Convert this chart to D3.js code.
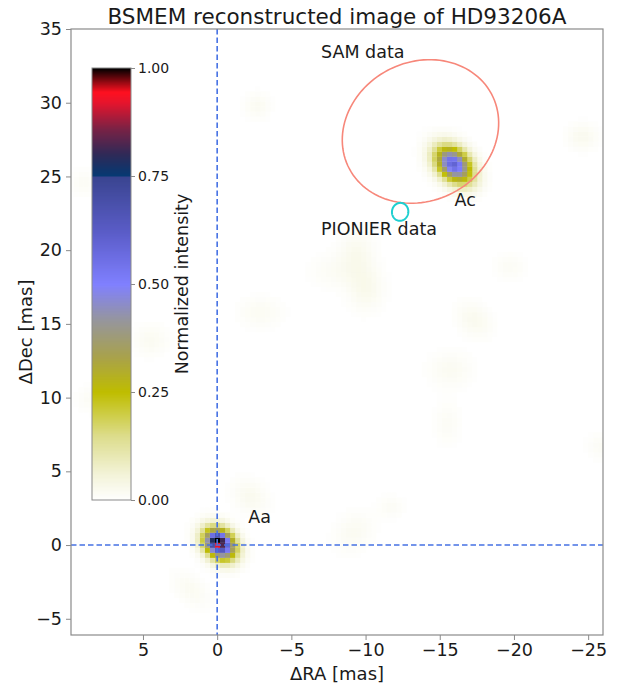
<!DOCTYPE html>
<html>
<head>
<meta charset="utf-8">
<script src="https://cdn.jsdelivr.net/npm/d3@7"></script>
<style>
body { margin: 0; background: #fff; }
text { font-family: "DejaVu Sans", sans-serif; fill: #1a1a1a; }
</style>
</head>
<body>
<svg id="chart" width="623" height="684"></svg>
<script>
// image extent in mas (RA runs right to left)
var raRange = [9.85, -26.0];
var decRange = [-6.1, 35.0];
var pixelSize = 0.34;

var xTicks = [5, 0, -5, -10, -15, -20, -25];
var yTicks = [-5, 0, 5, 10, 15, 20, 25, 30, 35];
var cbarTicks = [0, 0.25, 0.5, 0.75, 1.0];

// components: ra, dec, peak, sigma major, sigma minor, angle (deg, screen frame)
var sources = [
  [-0.15, 0.10, 0.76, 0.80, 0.62, 135],   // Aa
  [0.05, 0.27, 0.30, 0.32, 0.30, 0],      // Aa core
  [-15.9, 25.85, 0.60, 0.95, 0.68, 135],  // Ac
  [-16.9, 24.6, 0.03, 0.6, 0.5, 0],
  [-2.7, 29.8, 0.02, 0.6, 0.6, 0],
  [-24.6, 27.7, 0.025, 0.7, 0.6, 0],
  [-9.4, 19.8, 0.025, 1.1, 0.8, 90],
  [-10.0, 17.4, 0.028, 1.0, 0.8, 90],
  [-8.0, 18.6, 0.015, 1.2, 0.8, 0],
  [-2.9, 15.8, 0.018, 1.0, 0.7, 0],
  [-17.3, 15.3, 0.025, 0.9, 0.7, 135],
  [-19.7, 18.9, 0.015, 0.7, 0.6, 0],
  [-15.7, 11.9, 0.02, 1.0, 0.8, 0],
  [-15.5, 8.3, 0.015, 1.0, 0.6, 90],
  [-11.7, 2.6, 0.015, 0.6, 0.5, 0],
  [-2.2, 3.3, 0.025, 0.9, 0.7, 135],
  [-9.2, 0.9, 0.02, 1.0, 0.8, 45],
  [4.5, 13.9, 0.02, 0.8, 0.7, 0],
  [1.8, -3.0, 0.02, 1.0, 0.6, 135],
  [9.0, 24.6, 0.015, 0.6, 0.6, 0],
  [8.6, 9.9, 0.015, 0.6, 0.6, 0],
  [-25.8, 6.7, 0.015, 0.6, 0.6, 0]
];

var labels = [
  {text: "SAM data", ra: -7.0, dec: 33.0},
  {text: "PIONIER data", ra: -7.0, dec: 21.0},
  {text: "Ac", ra: -16.0, dec: 23.0},
  {text: "Aa", ra: -2.1, dec: 1.5}
];

// ellipses: centre, semi-axes (mas), angle of major axis (deg, screen frame)
var samEllipse = {ra: -13.7, dec: 28.05, a: 5.42, b: 4.70, angle: 28, color: "#f7877a", width: 1.6};
var pionierEllipse = {ra: -12.33, dec: 22.6, a: 0.61, b: 0.55, angle: 80, color: "#1ecfd0", width: 2};

var cmapStops = [0, 0.06, 0.15, 0.25, 0.33, 0.42, 0.5, 0.62, 0.749, 0.75, 0.80, 0.86, 0.92, 0.945, 1.0];
var cmapColors = ["#ffffff", "#f3f3d8", "#dcdc8a", "#bfbd00", "#a9a24a", "#9595a0", "#8080ff", "#5b5dc8",
                  "#3a4590", "#053a74", "#2e2a58", "#7a2245", "#e5152d", "#ff1020", "#000000"];

var svg = d3.select("#chart");
var margin = {left: 71, right: 603, top: 29, bottom: 635};

var x = d3.scaleLinear().domain(raRange).range([margin.left, margin.right]);
var y = d3.scaleLinear().domain(decRange).range([margin.bottom, margin.top]);
var cmap = d3.scaleLinear().domain(cmapStops).range(cmapColors).clamp(true);

// build the pixel grid
function intensity(ra, dec) {
  var s = 0;
  sources.forEach(function(c) {
    var t = c[5] * Math.PI / 180;
    var du = -(ra - c[0]), dv = dec - c[1];
    var p = du * Math.cos(t) + dv * Math.sin(t);
    var q = -du * Math.sin(t) + dv * Math.cos(t);
    s += c[2] * Math.exp(-0.5 * (p * p / (c[3] * c[3]) + q * q / (c[4] * c[4])));
  });
  return s;
}

var cells = [];
var iMin = Math.floor(raRange[1] / pixelSize), iMax = Math.ceil(raRange[0] / pixelSize);
var jMin = Math.floor(decRange[0] / pixelSize), jMax = Math.ceil(decRange[1] / pixelSize);
for (var i = iMin; i <= iMax; i++) {
  for (var j = jMin; j <= jMax; j++) {
    var v = intensity(i * pixelSize, j * pixelSize);
    cells.push({ra: i * pixelSize, dec: j * pixelSize, v: v});
  }
}
var vmax = d3.max(cells, function(d) { return d.v; });
cells.forEach(function(d) { d.v = d.v / vmax; });
cells = cells.filter(function(d) { return d.v > 0.003; });

svg.append("clipPath").attr("id", "plotclip")
  .append("rect")
  .attr("x", margin.left).attr("y", margin.top)
  .attr("width", margin.right - margin.left).attr("height", margin.bottom - margin.top);

var plot = svg.append("g").attr("clip-path", "url(#plotclip)");

plot.append("g").selectAll("rect")
  .data(cells)
  .enter().append("rect")
  .attr("x", function(d) { return x(d.ra + pixelSize / 2); })
  .attr("y", function(d) { return y(d.dec + pixelSize / 2); })
  .attr("width", function(d) { return x(d.ra - pixelSize / 2) - x(d.ra + pixelSize / 2) + 0.3; })
  .attr("height", function(d) { return y(d.dec - pixelSize / 2) - y(d.dec + pixelSize / 2) + 0.3; })
  .attr("fill", function(d) { return cmap(d.v); });

// dashed cross through Aa
plot.append("line")
  .attr("x1", x(0)).attr("x2", x(0))
  .attr("y1", margin.top).attr("y2", margin.bottom)
  .attr("stroke", "#4672e4").attr("stroke-width", 1.6).attr("stroke-dasharray", "5.5,3");
plot.append("line")
  .attr("x1", margin.left).attr("x2", margin.right)
  .attr("y1", y(0)).attr("y2", y(0))
  .attr("stroke", "#4672e4").attr("stroke-width", 1.6).attr("stroke-dasharray", "5.5,3");

function ellipsePath(e) {
  var t = e.angle * Math.PI / 180;
  var pts = d3.range(0, 361, 3).map(function(k) {
    var a = k * Math.PI / 180;
    var u = e.a * Math.cos(a), w = e.b * Math.sin(a);
    var du = u * Math.cos(t) - w * Math.sin(t);
    var dv = u * Math.sin(t) + w * Math.cos(t);
    return [x(e.ra - du), y(e.dec + dv)];
  });
  return d3.line().curve(d3.curveLinearClosed)(pts);
}

[samEllipse, pionierEllipse].forEach(function(e) {
  plot.append("path")
    .attr("d", ellipsePath(e))
    .attr("fill", "none")
    .attr("stroke", e.color)
    .attr("stroke-width", e.width);
});

svg.append("g").selectAll("text")
  .data(labels)
  .enter().append("text")
  .attr("x", function(d) { return x(d.ra); })
  .attr("y", function(d) { return y(d.dec); })
  .attr("font-size", "17.5px")
  .text(function(d) { return d.text; });

// frame + axes
svg.append("rect")
  .attr("x", margin.left).attr("y", margin.top)
  .attr("width", margin.right - margin.left).attr("height", margin.bottom - margin.top)
  .attr("fill", "none").attr("stroke", "#8a8a8a").attr("stroke-width", 1.2);

var xAxis = svg.append("g")
  .attr("transform", "translate(0," + margin.bottom + ")")
  .call(d3.axisBottom(x).tickValues(xTicks).tickFormat(d3.format("d")).tickSize(5).tickPadding(4));
var yAxis = svg.append("g")
  .attr("transform", "translate(" + margin.left + ",0)")
  .call(d3.axisLeft(y).tickValues(yTicks).tickFormat(d3.format("d")).tickSize(5).tickPadding(4));

[xAxis, yAxis].forEach(function(ax) {
  ax.select(".domain").remove();
  ax.selectAll(".tick line").attr("stroke", "#8a8a8a");
  ax.selectAll(".tick text").attr("font-size", "17.5px").attr("font-family", "DejaVu Sans").attr("fill", "#1a1a1a");
});

svg.append("text")
  .attr("x", (margin.left + margin.right) / 2).attr("y", 680)
  .attr("text-anchor", "middle").attr("font-size", "18px")
  .text("ΔRA [mas]");

svg.append("text")
  .attr("transform", "translate(32," + (margin.top + margin.bottom) / 2 + ") rotate(-90)")
  .attr("text-anchor", "middle").attr("font-size", "18px")
  .text("ΔDec [mas]");

svg.append("text")
  .attr("x", (margin.left + margin.right) / 2).attr("y", 24)
  .attr("text-anchor", "middle").attr("font-size", "21.5px")
  .text("BSMEM reconstructed image of HD93206A");

// colour bar inset
var cb = {x: 92, w: 39, top: 68, bottom: 500};
var yc = d3.scaleLinear().domain([0, 1]).range([cb.bottom, cb.top]);
var cbSteps = d3.range(0, 1, 1 / 432);

svg.append("g").selectAll("rect")
  .data(cbSteps)
  .enter().append("rect")
  .attr("x", cb.x)
  .attr("y", function(d) { return yc(d + 1 / 432); })
  .attr("width", cb.w)
  .attr("height", yc(0) - yc(1 / 432) + 0.5)
  .attr("fill", function(d) { return cmap(d + 0.5 / 432); });

svg.append("rect")
  .attr("x", cb.x).attr("y", cb.top)
  .attr("width", cb.w).attr("height", cb.bottom - cb.top)
  .attr("fill", "none").attr("stroke", "#8a8a8a").attr("stroke-width", 1);

var cAxis = svg.append("g")
  .attr("transform", "translate(" + (cb.x + cb.w) + ",0)")
  .call(d3.axisRight(yc).tickValues(cbarTicks).tickFormat(d3.format(".2f")).tickSize(4).tickPadding(3));
cAxis.select(".domain").remove();
cAxis.selectAll(".tick line").attr("stroke", "#8a8a8a");
cAxis.selectAll(".tick text").attr("font-size", "14px").attr("font-family", "DejaVu Sans").attr("fill", "#1a1a1a");

svg.append("text")
  .attr("transform", "translate(188," + (cb.top + cb.bottom) / 2 + ") rotate(-90)")
  .attr("text-anchor", "middle").attr("font-size", "17.5px")
  .text("Normalized intensity");
</script>
</body>
</html>
